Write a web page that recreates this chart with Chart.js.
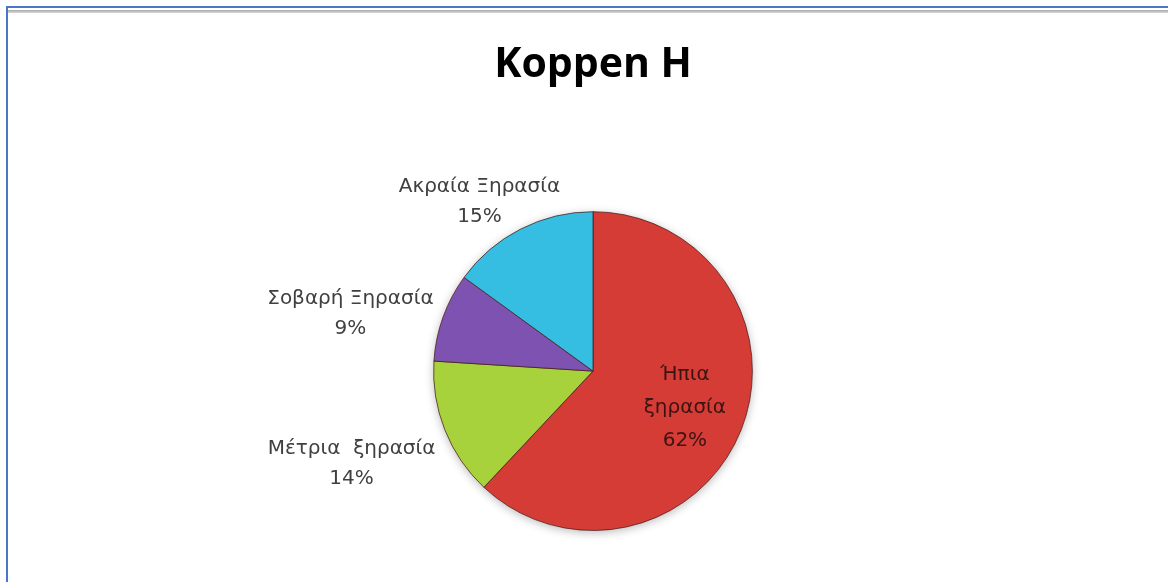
<!DOCTYPE html>
<html>
<head>
<meta charset="utf-8">
<script src="https://cdn.jsdelivr.net/npm/chart.js@4.4.1/dist/chart.umd.min.js"></script>
<style>
  html, body { margin: 0; padding: 0; background: #fff; overflow: hidden; }
  body { width: 1168px; height: 582px; position: relative; }
  #wrap { position: absolute; left: 7px; top: 0; width: 1172px; height: 582px; }
  .frame-top { position: absolute; left: 6px; right: 0; top: 6px; height: 2px; background: #4a76c6; }
  .frame-grey { position: absolute; left: 8px; right: 0; top: 10px; height: 3px; background: linear-gradient(#a8a8a8, #d8d8d8); }
  .frame-left { position: absolute; left: 6px; top: 6px; bottom: 0; width: 2px; background: #4a76c6; }
</style>
</head>
<body>
<div id="wrap"><canvas id="chartPie"></canvas></div>
<div class="frame-top"></div>
<div class="frame-grey"></div>
<div class="frame-left"></div>
<script>
const chartTitle = 'Koppen H';
const categories = ['Ήπια ξηρασία', 'Μέτρια  ξηρασία', 'Σοβαρή Ξηρασία', 'Ακραία Ξηρασία'];
const values = [62, 14, 9, 15];
const sliceColors = ['#d63c36', '#a8d23c', '#7d52b0', '#36bee2'];
const rimColors = ['#a02522', '#7fa824', '#5a3889', '#1f90b4'];
// label text broken into lines as they appear on the chart
const labelLines = [['Ήπια', 'ξηρασία'], ['Μέτρια  ξηρασία'], ['Σοβαρή Ξηρασία'], ['Ακραία Ξηρασία']];

const LABEL_FONT = '20px "DejaVu Sans", sans-serif';
const LINE_H = 30;
const INNER_LINE_H = 33;

function sliceFill(context) {
  const chart = context.chart;
  const arc = chart.getDatasetMeta(0).data[context.dataIndex];
  if (!arc || !arc.outerRadius) return sliceColors[context.dataIndex];
  const g = chart.ctx.createRadialGradient(arc.x, arc.y, 0, arc.x, arc.y, arc.outerRadius);
  g.addColorStop(0, sliceColors[context.dataIndex]);
  g.addColorStop(0.84, sliceColors[context.dataIndex]);
  g.addColorStop(1, rimColors[context.dataIndex]);
  return g;
}

// soft halo under the pie
const pieShadow = {
  id: 'pieShadow',
  beforeDatasetsDraw(chart) {
    const arc = chart.getDatasetMeta(0).data[0];
    if (!arc) return;
    const ctx = chart.ctx;
    ctx.save();
    ctx.shadowColor = 'rgba(0,0,0,0.28)';
    ctx.shadowBlur = 10;
    ctx.shadowOffsetY = 2;
    ctx.fillStyle = '#fff';
    ctx.beginPath();
    ctx.arc(arc.x, arc.y, arc.outerRadius, 0, Math.PI * 2);
    ctx.fill();
    ctx.restore();
  }
};

const sliceLabels = {
  id: 'sliceLabels',
  afterDatasetsDraw(chart) {
    const ctx = chart.ctx;
    const meta = chart.getDatasetMeta(0);
    const total = values.reduce((a, b) => a + b, 0);
    ctx.save();
    ctx.font = LABEL_FONT;
    ctx.textAlign = 'center';
    ctx.textBaseline = 'middle';
    meta.data.forEach((arc, i) => {
      const pct = Math.round(values[i] / total * 100) + '%';
      const lines = labelLines[i].concat(pct);
      const mid = (arc.startAngle + arc.endAngle) / 2;
      const dx = Math.cos(mid), dy = Math.sin(mid);
      let lh = LINE_H;
      let cx, cy;
      if (values[i] / total > 0.5) {
        // big slice: label sits inside
        lh = INNER_LINE_H;
        const r = arc.outerRadius * 0.62;
        cx = arc.x + dx * r;
        cy = arc.y + dy * r;
        ctx.fillStyle = '#3b1412';
      } else {
        const h = lines.length * lh;
        const w = Math.max(...lines.map(t => ctx.measureText(t).width));
        const r = arc.outerRadius + 10;
        const px = arc.x + dx * r, py = arc.y + dy * r;
        if (Math.abs(dx) > 0.7) {
          // side labels hang off the rim point
          cx = px + Math.sign(dx) * w / 2;
          cy = py + h * (0.24 + 0.71 * dy);
        } else {
          cx = px + dx * w / 2;
          cy = py + Math.sign(dy) * h / 2 + h * 0.2;
        }
        ctx.fillStyle = '#404040';
      }
      const h = lines.length * lh;
      lines.forEach((t, k) => {
        ctx.fillText(t, cx, cy - h / 2 + lh * (k + 0.5));
      });
    });
    ctx.restore();
  }
};

new Chart(document.getElementById('chartPie').getContext('2d'), {
  type: 'pie',
  data: {
    labels: categories,
    datasets: [{
      data: values,
      backgroundColor: sliceFill,
      borderColor: 'rgba(70,25,25,0.75)',
      borderWidth: 1,
      hoverOffset: 0
    }]
  },
  options: {
    responsive: true,
    maintainAspectRatio: false,
    animation: false,
    events: [],
    layout: { padding: { top: 0, bottom: 51, left: 0, right: 0 } },
    plugins: {
      legend: { display: false },
      tooltip: { enabled: false },
      title: {
        display: true,
        text: chartTitle,
        color: '#000',
        font: { family: '"Open Sans", sans-serif', size: 41, weight: 'bold', lineHeight: 1.2 },
        padding: { top: 41, bottom: 121 }
      }
    }
  },
  plugins: [pieShadow, sliceLabels]
});
</script>
</body>
</html>
